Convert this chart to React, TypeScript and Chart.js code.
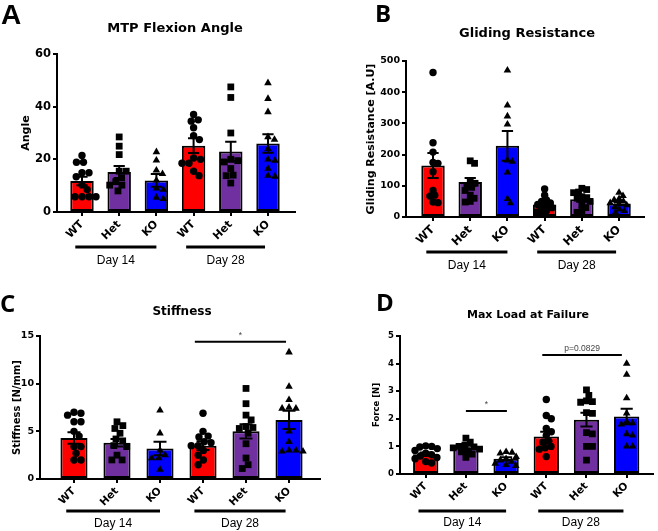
import React, { useEffect, useRef } from 'react';
import { Chart, registerables } from 'chart.js';
Chart.register(...registerables);

// ---------- shared labels ----------
const GENOTYPES = ['WT', 'Het', 'KO', 'WT', 'Het', 'KO'];
const DAYS = ['Day 14', 'Day 28'];
const BAR_COLORS = ['#ff0000', '#7030a0', '#0000ff', '#ff0000', '#7030a0', '#0000ff'];
const POINT_STYLES = ['circle', 'rect', 'triangle', 'circle', 'rect', 'triangle'];

// ---------- A: MTP Flexion Angle ----------
const ANGLE_MEAN = [11.8, 15.2, 12.0, 25.2, 23.0, 26.0];
const ANGLE_SEM = [1.6, 2.3, 2.4, 2.8, 3.7, 3.5];
const ANGLE_POINTS = [
  [21.5, 18.9, 18.9, 14.9, 14.9, 13.4, 10.3, 8.5, 5.8, 5.8, 5.8, 5.8],
  [28.5, 25.0, 21.8, 15.5, 15.5, 13.0, 11.5, 10.2, 10.2, 8.0],
  [22.8, 19.6, 15.8, 14.5, 12.0, 9.0, 8.5, 5.5, 5.0],
  [37.0, 35.0, 34.5, 32.0, 29.0, 27.5, 20.5, 20.0, 18.5, 18.5, 15.5, 13.8],
  [47.5, 43.5, 30.0, 20.0, 19.5, 19.0, 16.5, 14.0, 13.8, 11.0],
  [49.0, 43.0, 38.0, 28.5, 27.5, 24.0, 20.0, 19.5, 16.5, 13.8, 13.5],
];

// ---------- B: Gliding Resistance ----------
const GLIDE_MEAN = [165, 112, 228, 40, 57, 43];
const GLIDE_SEM = [40, 13, 48, 7, 8, 5];
const GLIDE_POINTS = [
  [463, 238, 208, 175, 172, 145, 85, 70, 67, 48, 46],
  [180, 172, 112, 108, 100, 95, 85, 70, 60, 50, 48],
  [470, 358, 323, 297, 182, 178, 143, 58, 45],
  [90, 70, 55, 50, 45, 40, 35, 30, 25, 20, 15, 10],
  [92, 88, 80, 78, 65, 62, 60, 50, 40, 30, 20, 15],
  [78, 68, 58, 55, 50, 45, 42, 38, 32, 25, 20, 15],
];

// ---------- C: Stiffness ----------
const STIFF_MEAN = [4.3, 3.8, 3.2, 3.5, 5.0, 6.2];
const STIFF_SEM = [0.6, 0.4, 0.7, 0.45, 0.75, 0.95];
const STIFF_POINTS = [
  [7.0, 6.9, 6.7, 6.0, 6.0, 5.0, 4.5, 3.4, 3.4, 2.7, 2.0, 2.0],
  [6.0, 5.6, 5.3, 4.8, 4.2, 4.0, 3.5, 3.4, 2.5, 2.0, 2.0],
  [7.2, 4.8, 3.0, 2.5, 2.2, 2.2, 1.0],
  [6.9, 5.0, 4.5, 4.4, 3.9, 3.8, 3.5, 3.5, 3.0, 2.5, 2.0, 1.5],
  [9.5, 7.9, 6.7, 6.2, 5.5, 5.4, 5.3, 4.8, 3.7, 2.2, 1.5, 1.1],
  [13.3, 9.7, 8.3, 7.5, 7.4, 7.4, 5.0, 3.9, 3.0, 3.0, 2.9, 2.9],
];

// ---------- D: Max Load at Failure ----------
const LOAD_MEAN = [0.72, 0.95, 0.55, 1.36, 1.97, 2.08];
const LOAD_SEM = [0.06, 0.07, 0.06, 0.17, 0.25, 0.28];
const LOAD_POINTS = [
  [1.02, 1.0, 0.98, 0.92, 0.85, 0.75, 0.7, 0.65, 0.6, 0.55, 0.45, 0.4],
  [1.3, 1.15, 1.05, 1.0, 0.98, 0.95, 0.9, 0.85, 0.8, 0.72, 0.6],
  [0.8, 0.78, 0.75, 0.62, 0.55, 0.5, 0.45, 0.38, 0.33, 0.3],
  [2.7, 2.12, 2.0, 1.65, 1.53, 1.4, 1.2, 1.15, 1.0, 0.95, 0.9, 0.63],
  [3.05, 2.85, 2.65, 2.62, 2.6, 2.22, 2.2, 1.5, 1.45, 1.0, 1.0, 0.5],
  [4.0, 3.6, 2.75, 2.2, 1.9, 1.85, 1.8, 1.45, 1.4, 1.0, 1.0],
];

const BOLD = '"DejaVu Sans"';
const REG = '"Liberation Sans", Arial, sans-serif';

type Sig = { from: number; to: number; y: number; text: string };
type Panel = {
  left: number; top: number; w: number; h: number;
  letter: string; letterFont: string; letterX: number; letterY: number;
  title: string; titleSize: number; titleX: number; titleY: number;
  yTitle: string; yTitleSize: number; yTickSize: number; xTickSize: number;
  mean: number[]; sem: number[]; points: number[][];
  ymax: number; ystep: number; xmin: number; xmax: number;
  pad: { left: number; top: number; right: number; bottom: number }; yWidth: number;
  dayLineY: number; dayLabelY: number; sigs: Sig[]; swarm: number;
};

const PANELS: Panel[] = [
  {
    left: 0, top: 0, w: 329, h: 275,
    letter: 'A', letterFont: `bold 28px ${REG}`, letterX: 1, letterY: 24,
    title: 'MTP Flexion Angle', titleSize: 13, titleX: 175, titleY: 29,
    yTitle: 'Angle', yTitleSize: 11, yTickSize: 11.5, xTickSize: 11,
    mean: ANGLE_MEAN, sem: ANGLE_SEM, points: ANGLE_POINTS,
    ymax: 60, ystep: 20, xmin: -0.672, xmax: 5.726,
    pad: { left: 19.4, top: 54, right: 34, bottom: 33 }, yWidth: 37.6,
    dayLineY: 247, dayLabelY: 261, sigs: [], swarm: 7,
  },
  {
    left: 329, top: 0, w: 329, h: 275,
    letter: 'B', letterFont: `bold 24px "Open Sans"`, letterX: 46, letterY: 22,
    title: 'Gliding Resistance', titleSize: 13, titleX: 198, titleY: 34,
    yTitle: 'Gliding Resistance [A.U]', yTitleSize: 11, yTickSize: 9.5, xTickSize: 11.5,
    mean: GLIDE_MEAN, sem: GLIDE_SEM, points: GLIDE_POINTS,
    ymax: 500, ystep: 100, xmin: -0.726, xmax: 5.67,
    pad: { left: 35.4, top: 61, right: 14, bottom: 28 }, yWidth: 41.6,
    dayLineY: 252, dayLabelY: 266, sigs: [], swarm: 5,
  },
  {
    left: 0, top: 265, w: 329, h: 266,
    letter: 'C', letterFont: `bold 24px "Open Sans"`, letterX: 0, letterY: 47,
    title: 'Stiffness', titleSize: 12, titleX: 182, titleY: 47,
    yTitle: 'Stiffness [N/mm]', yTitleSize: 10, yTickSize: 9.5, xTickSize: 10.5,
    mean: STIFF_MEAN, sem: STIFF_SEM, points: STIFF_POINTS,
    ymax: 15, ystep: 5, xmin: -0.79, xmax: 5.72,
    pad: { left: 11, top: 71, right: 9, bottom: 22 }, yWidth: 29,
    dayLineY: 246, dayLabelY: 259,
    sigs: [{ from: 2.81, to: 4.93, y: 14.4, text: '*' }], swarm: 7,
  },
  {
    left: 329, top: 265, w: 329, h: 266,
    letter: 'D', letterFont: `bold 24px "Open Sans"`, letterX: 47, letterY: 46,
    title: 'Max Load at Failure', titleSize: 11, titleX: 199, titleY: 50,
    yTitle: 'Force [N]', yTitleSize: 8.5, yTickSize: 8.5, xTickSize: 10.5,
    mean: LOAD_MEAN, sem: LOAD_SEM, points: LOAD_POINTS,
    ymax: 5, ystep: 1, xmin: -0.64, xmax: 5.66,
    pad: { left: 43, top: 71, right: 2, bottom: 27 }, yWidth: 28,
    dayLineY: 246, dayLabelY: 257.5,
    sigs: [
      { from: 1.0, to: 2.02, y: 2.28, text: '*' },
      { from: 2.9, to: 4.88, y: 4.31, text: 'p=0.0829' },
    ], swarm: 6,
  },
];

const DAY_SPANS = [[-0.18, 2.0], [2.8, 4.92]];

function buildChart(canvas: HTMLCanvasElement, p: Panel) {
  const annot = {
    id: 'annot',
    afterDatasetDraw(chart: any, args: any) {
      if (args.index !== 0) return;
      const ctx = chart.ctx;
      const ys = chart.scales.y;
      const meta = chart.getDatasetMeta(0);
      ctx.save();
      ctx.strokeStyle = '#000';
      ctx.lineWidth = 2;
      meta.data.forEach((el: any, i: number) => {
        const hi = ys.getPixelForValue(p.mean[i] + p.sem[i]);
        const lo = ys.getPixelForValue(p.mean[i] - p.sem[i]);
        const cw = el.width * 0.24;
        ctx.beginPath();
        ctx.moveTo(el.x, hi); ctx.lineTo(el.x, lo);
        ctx.moveTo(el.x - cw, hi); ctx.lineTo(el.x + cw, hi);
        ctx.moveTo(el.x - cw, lo); ctx.lineTo(el.x + cw, lo);
        ctx.stroke();
      });
      ctx.restore();
    },
    afterDraw(chart: any) {
      const ctx = chart.ctx;
      const xs = chart.scales.x;
      const ys = chart.scales.y;
      ctx.save();
      ctx.fillStyle = '#000';
      // panel letter
      ctx.font = p.letterFont;
      ctx.textAlign = 'left';
      ctx.textBaseline = 'alphabetic';
      ctx.fillText(p.letter, p.letterX, p.letterY);
      // title
      ctx.font = `bold ${p.titleSize}px ${BOLD}`;
      ctx.textAlign = 'center';
      ctx.textBaseline = 'middle';
      ctx.fillText(p.title, p.titleX, p.titleY);
      // group lines and day labels
      ctx.strokeStyle = '#000';
      ctx.lineWidth = 3;
      ctx.font = `12px ${REG}`;
      DAY_SPANS.forEach((s, i) => {
        const x0 = xs.getPixelForValue(s[0]);
        const x1 = xs.getPixelForValue(s[1]);
        ctx.beginPath();
        ctx.moveTo(x0, p.dayLineY); ctx.lineTo(x1, p.dayLineY);
        ctx.stroke();
        ctx.fillText(DAYS[i], (x0 + x1) / 2, p.dayLabelY);
      });
      // significance
      ctx.lineWidth = 2;
      p.sigs.forEach((s) => {
        const x0 = xs.getPixelForValue(s.from);
        const x1 = xs.getPixelForValue(s.to);
        const y = ys.getPixelForValue(s.y);
        ctx.strokeStyle = '#000';
        ctx.beginPath();
        ctx.moveTo(x0, y); ctx.lineTo(x1, y);
        ctx.stroke();
        ctx.fillStyle = '#444';
        ctx.font = `8.5px ${REG}`;
        ctx.textBaseline = 'bottom';
        ctx.fillText(s.text, (x0 + x1) / 2, y - 2);
      });
      ctx.restore();
    },
  };

  const tickFont = (size: number) => ({ family: BOLD, weight: 'bold' as const, size });
  const grid = { display: true, drawOnChartArea: false, drawTicks: true, tickLength: 4, color: '#000', lineWidth: 2, offset: false };
  const border = { display: true, color: '#000', width: 2 };

  const datasets: any[] = [
    {
      type: 'bar',
      data: p.mean.map((m, i) => ({ x: i, y: m })),
      backgroundColor: BAR_COLORS,
      borderColor: '#000',
      borderWidth: 2,
      borderSkipped: false,
      barPercentage: 0.63,
      categoryPercentage: 1,
      order: 1,
    },
    ...p.points.map((vals, g) => ({
      type: 'scatter',
      data: vals.map((v) => ({ x: g, y: v })),
      pointStyle: POINT_STYLES[g],
      pointRadius: POINT_STYLES[g] === 'rect' ? 4.8 : POINT_STYLES[g] === 'triangle' ? 4.4 : 3.7,
      pointHoverRadius: POINT_STYLES[g] === 'rect' ? 4.8 : POINT_STYLES[g] === 'triangle' ? 4.4 : 3.7,
      backgroundColor: '#000',
      borderColor: '#000',
      borderWidth: 0,
      showLine: false,
      order: 0,
    })),
  ];

  const chart = new Chart(canvas, {
    type: 'bar',
    data: { datasets },
    options: {
      responsive: false,
      animation: false,
      devicePixelRatio: 1,
      events: [],
      layout: { padding: p.pad },
      plugins: { legend: { display: false }, tooltip: { enabled: false } },
      scales: {
        x: {
          type: 'linear',
          offset: false,
          min: p.xmin,
          max: p.xmax,
          afterBuildTicks: (ax: any) => { ax.ticks = GENOTYPES.map((_, i) => ({ value: i })); },
          afterFit: (ax: any) => { ax.height = 30; },
          ticks: {
            autoSkip: false, minRotation: 45, maxRotation: 45, padding: 2, color: '#000',
            font: tickFont(p.xTickSize),
            callback: (v: any) => GENOTYPES[v] ?? '',
          },
          grid, border,
        },
        y: {
          type: 'linear',
          min: 0,
          max: p.ymax,
          afterFit: (ax: any) => { ax.width = p.yWidth; },
          ticks: { stepSize: p.ystep, padding: 2, color: '#000', font: tickFont(p.yTickSize) },
          grid, border,
          title: {
            display: true, text: p.yTitle, color: '#000', padding: 0,
            font: { family: BOLD, weight: 'bold', size: p.yTitleSize },
          },
        },
      },
    } as any,
    plugins: [annot],
  });

  // beeswarm spread of the dots, computed in pixel space from the chart's scales
  const xs: any = chart.scales.x;
  const ys: any = chart.scales.y;
  const unit = xs.getPixelForValue(1) - xs.getPixelForValue(0);
  const D = p.swarm;
  p.points.forEach((vals, g) => {
    const placed: { x: number; y: number }[] = [];
    const data = vals.map((v) => {
      const py = ys.getPixelForValue(v);
      const forb: [number, number][] = [];
      placed.forEach((q) => {
        const dy = Math.abs(q.y - py);
        if (dy < D) {
          const w = Math.sqrt(D * D - dy * dy);
          forb.push([q.x - w, q.x + w]);
        }
      });
      const cands = [0, ...forb.flatMap((f) => [f[0], f[1]])].sort(
        (a, b) => Math.abs(a) - Math.abs(b) || b - a
      );
      let px = 0;
      for (const c of cands) {
        if (!forb.some((f) => c > f[0] + 1e-6 && c < f[1] - 1e-6)) { px = c; break; }
      }
      placed.push({ x: px, y: py });
      return { x: g + px / unit, y: v };
    });
    (chart.data.datasets[g + 1] as any).data = data;
  });
  chart.update();
  return chart;
}

export default function App() {
  const r0 = useRef<HTMLCanvasElement>(null);
  const r1 = useRef<HTMLCanvasElement>(null);
  const r2 = useRef<HTMLCanvasElement>(null);
  const r3 = useRef<HTMLCanvasElement>(null);
  const refs = [r0, r1, r2, r3];

  useEffect(() => {
    const charts = PANELS.map((p, i) => buildChart(refs[i].current as HTMLCanvasElement, p));
    return () => charts.forEach((c) => c.destroy());
  }, []);

  return (
    <div style={{ position: 'absolute', left: 0, top: 0, width: 658, height: 531, background: '#fff', overflow: 'hidden' }}>
      {PANELS.map((p, i) => (
        <canvas
          key={i}
          ref={refs[i]}
          width={p.w}
          height={p.h}
          style={{ position: 'absolute', left: p.left, top: p.top, width: p.w, height: p.h }}
        />
      ))}
    </div>
  );
}
